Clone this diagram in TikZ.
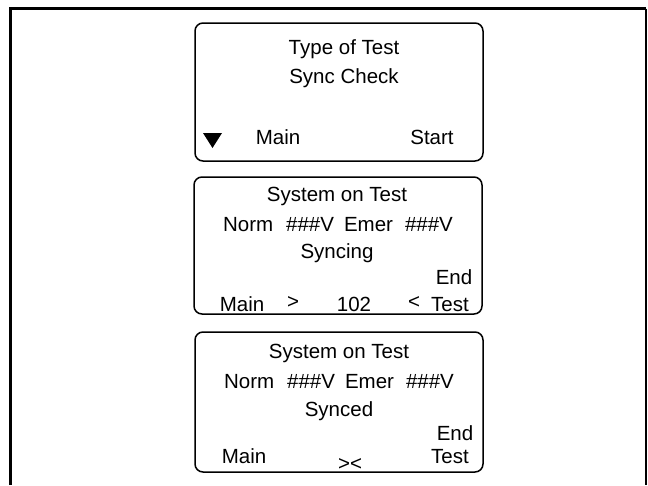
\documentclass[tikz,border=0pt]{standalone}
\usepackage{fontspec}
\setmainfont{Liberation Sans}
\begin{document}
\begin{tikzpicture}[x=1pt,y=-1pt,
  font=\fontsize{20.5}{24}\selectfont,
  screen/.style={draw, line width=1.5pt, rounded corners=8pt},
  frame/.style={draw, line width=2.5pt},
  txt/.style={anchor=base, inner sep=0pt},
  sym/.style={anchor=base, inner sep=0pt}]
\useasboundingbox (0,0) rectangle (648,485);
% outer frame (open at bottom)
\coordinate (fbl) at (10.5,485);
\coordinate (ftl) at (10.5,8.5);
\coordinate (ftr) at (646,8.5);
\coordinate (fbr) at (646,485);
\draw[frame] (fbl) -- (ftl) -- (ftr);
\draw[line width=1.5pt] (ftr) -- (fbr);
% screens
\draw[screen] (195,23) rectangle (483,161);
\draw[screen] (194,177) rectangle (482,314);
\draw[screen] (195,332) rectangle (483,472);
% screen 1
\node[txt] (a1) at (344,54) {Type of Test};
\node[txt] (a2) at (344,83) {Sync Check};
\fill (203,133) -- (222,133) -- (212.5,148) -- cycle;
\node[txt] (a3) at (278,144) {Main};
\node[txt] (a4) at (432,144) {Start};
% screen 2
\node[txt] (b1) at (337,201) {System on Test};
\node[txt] (b2) at (338,231) {Norm\hspace{13pt}\#\#\#V\hspace{10pt}Emer\hspace{12pt}\#\#\#V};
\node[txt] (b3) at (337,258) {Syncing};
\node[txt] (b4) at (454,284) {End};
\node[txt] (b5) at (242,311) {Main};
\node[sym] (b6) at (293,308) {>};
\node[txt] (b7) at (354,311) {102};
\node[sym] (b8) at (414,308) {<};
\node[txt] (b9) at (450,311) {Test};
% screen 3
\node[txt] (c1) at (339,358) {System on Test};
\node[txt] (c2) at (339,388) {Norm\hspace{13pt}\#\#\#V\hspace{10pt}Emer\hspace{12pt}\#\#\#V};
\node[txt] (c3) at (339,416) {Synced};
\node[txt] (c4) at (455,440) {End};
\node[txt] (c5) at (244,463) {Main};
\node[sym] (c6) at (350,470) {><};
\node[txt] (c7) at (450,463) {Test};
\end{tikzpicture}
\end{document}
